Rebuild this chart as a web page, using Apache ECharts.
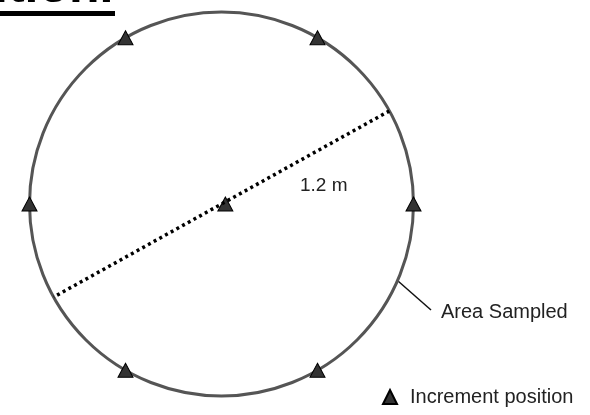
<!DOCTYPE html>
<html>
<head>
<meta charset="utf-8">
<script src="https://cdn.jsdelivr.net/npm/echarts@6/dist/echarts.min.js"></script>
<style>
	html, body { margin: 0; padding: 0; background: #fff; }
	#chart { width: 590px; height: 415px; }
</style>
</head>
<body>
<div id="chart"></div>
<script type="text/javascript">
	// plot radius in metres (diameter 1.2 m), angles in degrees
	var plotRadius = 0.6;
	var incrementAngles = [0, 60, 120, 180, 240, 300];
	var incrementRadii = [0.6, 0.6, 0.6, 0.6, 0.6, 0.6];
	var centreIncrement = [0.012, 0];
	var diameterAngles = [29, 209];
	var diameterLabel = '1.2 m';
	var areaLabel = 'Area Sampled';
	var seriesName = 'Increment position';

	var points = incrementAngles.map(function (a, i) { return [incrementRadii[i], a]; });
	points.push(centreIncrement);
	var diameter = diameterAngles.map(function (a) { return [plotRadius, a]; });

	var font = 'Liberation Sans, Arial, sans-serif';
	var myChart = echarts.init(document.getElementById('chart'));
	var option = {
		backgroundColor: '#fff',
		animation: false,
		polar: { center: [221.5, 204], radius: 192 },
		radiusAxis: { type: 'value', min: 0, max: plotRadius, show: false },
		angleAxis: {
			type: 'value', min: 0, max: 360, startAngle: 0, clockwise: false,
			axisLine: { show: true, lineStyle: { color: '#555', width: 3 } },
			axisTick: { show: false }, axisLabel: { show: false }, splitLine: { show: false }
		},
		legend: {
			data: [seriesName], icon: 'triangle', left: 382, top: 387, padding: 0,
			itemWidth: 14, itemHeight: 14,
			textStyle: { fontFamily: font, fontSize: 20, color: '#222', padding: [0, 0, 0, 8] }
		},
		series: [
			{
				type: 'line', coordinateSystem: 'polar', data: diameter,
				symbol: 'none', silent: true,
				lineStyle: { color: '#000', width: 3.5, type: [3, 3.5] }
			},
			{
				name: seriesName, type: 'scatter', coordinateSystem: 'polar', data: points,
				symbol: 'triangle', symbolSize: [15, 14],
				itemStyle: { color: '#333', borderColor: '#000', borderWidth: 1, opacity: 1 }
			}
		],
		graphic: [
			{ type: 'text', left: 300, top: 176, style: { text: diameterLabel, font: '19px ' + font, fill: '#222' } },
			{ type: 'line', shape: { x1: 398, y1: 281, x2: 431, y2: 310 }, style: { stroke: '#111', lineWidth: 1.5 } },
			{ type: 'text', left: 441, top: 302, style: { text: areaLabel, font: '20px ' + font, fill: '#222' } },
			{ type: 'text', x: -6, y: 13, style: { text: 'ition.', font: 'bold 50px ' + font, fill: '#000', verticalAlign: 'bottom' } },
			{ type: 'rect', shape: { x: 0, y: 11, width: 115, height: 5 }, style: { fill: '#000' } }
		]
	};
	myChart.setOption(option);
</script>
</body>
</html>
